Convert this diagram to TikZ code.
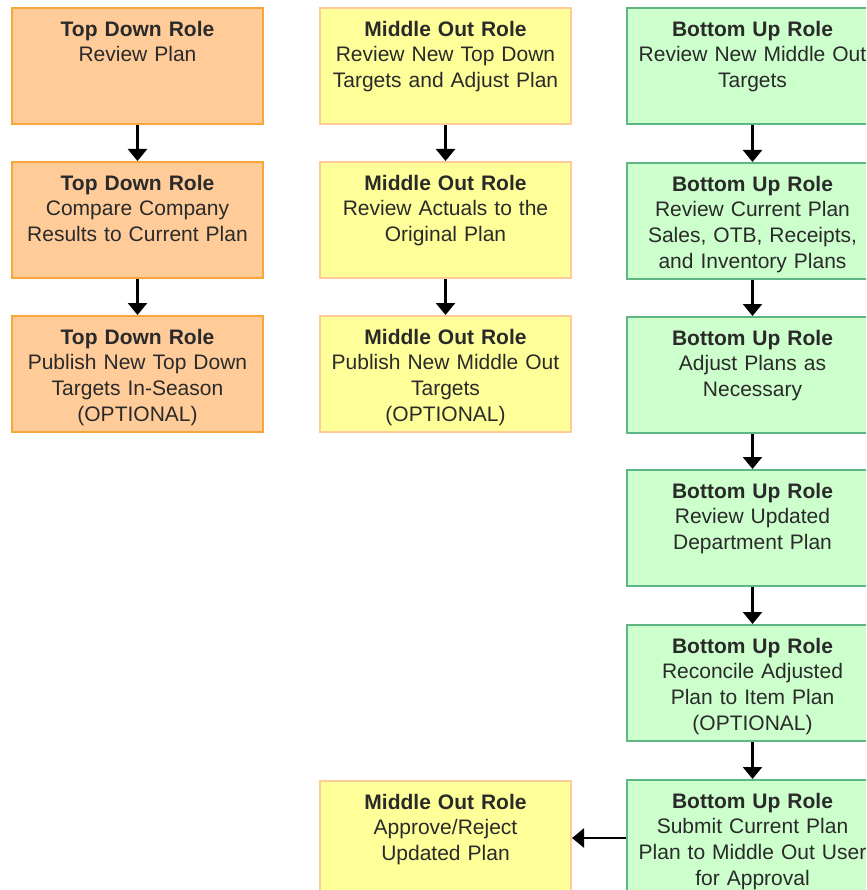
\documentclass[tikz,border=0pt]{standalone}
\usepackage{fontspec}
\setmainfont{Liberation Sans}
\usetikzlibrary{arrows.meta}
\definecolor{ofill}{HTML}{FFCC99}
\definecolor{oline}{HTML}{F7A637}
\definecolor{yfill}{HTML}{FFFF99}
\definecolor{yline}{HTML}{FFCC99}
\definecolor{gfill}{HTML}{CCFFCC}
\definecolor{gline}{HTML}{5DB683}
\definecolor{txtc}{HTML}{2A2A2A}
\tikzset{
  box/.style={line width=2pt, minimum width=251pt, minimum height=116pt, inner sep=0pt, anchor=north west},
  obox/.style={box, draw=oline, fill=ofill},
  ybox/.style={box, draw=yline, fill=yfill},
  gbox/.style={box, draw=gline, fill=gfill},
  txt/.style={anchor=north, inner sep=0pt, text width=250pt, align=center, text=txtc, font=\fontsize{21}{25.7}\selectfont},
  arr/.style={line width=2.5pt, -{Triangle[width=19pt,length=12pt]}}
}
\newcommand{\hd}[1]{\strut\textbf{#1}}
\begin{document}
\begin{tikzpicture}[x=1pt,y=-1pt]
\clip (0,0) rectangle (866,890);
\fill[white] (0,0) rectangle (866,890);
% left column
\node[obox] (a1) at (11,7) {};
\node[obox] (a2) at (11,161) {};
\node[obox] (a3) at (11,315) {};
% middle column
\node[ybox] (m1) at (319,7) {};
\node[ybox] (m2) at (319,161) {};
\node[ybox] (m3) at (319,315) {};
\node[ybox] (m4) at (319,780) {};
% right column
\node[gbox] (r1) at (626,7) {};
\node[gbox] (r2) at (626,162) {};
\node[gbox] (r3) at (626,316) {};
\node[gbox] (r4) at (626,469) {};
\node[gbox] (r5) at (626,624) {};
\node[gbox] (r6) at (626,779) {};
% texts
\node[txt] (a1t) at ([yshift=-11pt]a1.north) {\hd{Top Down Role}\\Review Plan};
\node[txt] (a2t) at ([yshift=-11pt]a2.north) {\hd{Top Down Role}\\Compare Company\\Results to Current Plan};
\node[txt] (a3t) at ([yshift=-11pt]a3.north) {\hd{Top Down Role}\\Publish New Top Down\\Targets In-Season\\(OPTIONAL)};
\node[txt] (m1t) at ([yshift=-11pt]m1.north) {\hd{Middle Out Role}\\Review New Top Down\\Targets and Adjust Plan};
\node[txt] (m2t) at ([yshift=-11pt]m2.north) {\hd{Middle Out Role}\\Review Actuals to the\\Original Plan};
\node[txt] (m3t) at ([yshift=-11pt]m3.north) {\hd{Middle Out Role}\\Publish New Middle Out\\Targets\\(OPTIONAL)};
\node[txt] (m4t) at ([yshift=-11pt]m4.north) {\hd{Middle Out Role}\\Approve/Reject\\Updated Plan};
\node[txt] (r1t) at ([yshift=-11pt]r1.north) {\hd{Bottom Up Role}\\Review New Middle Out\\Targets};
\node[txt] (r2t) at ([yshift=-11pt]r2.north) {\hd{Bottom Up Role}\\Review Current Plan\\Sales, OTB, Receipts,\\and Inventory Plans};
\node[txt] (r3t) at ([yshift=-11pt]r3.north) {\hd{Bottom Up Role}\\Adjust Plans as\\Necessary};
\node[txt] (r4t) at ([yshift=-11pt]r4.north) {\hd{Bottom Up Role}\\Review Updated\\Department Plan};
\node[txt] (r5t) at ([yshift=-11pt]r5.north) {\hd{Bottom Up Role}\\Reconcile Adjusted\\Plan to Item Plan\\(OPTIONAL)};
\node[txt] (r6t) at ([yshift=-11pt]r6.north) {\hd{Bottom Up Role}\\Submit Current Plan\\Plan to Middle Out User\\for Approval};
% arrows
\draw[arr] (a1.south) -- (a2.north);
\draw[arr] (a2.south) -- (a3.north);
\draw[arr] (m1.south) -- (m2.north);
\draw[arr] (m2.south) -- (m3.north);
\draw[arr] (r1.south) -- (r2.north);
\draw[arr] (r2.south) -- (r3.north);
\draw[arr] (r3.south) -- (r4.north);
\draw[arr] (r4.south) -- (r5.north);
\draw[arr] (r5.south) -- (r6.north);
\draw[arr] (r6.west) -- (r6.west -| m4.east);
\end{tikzpicture}
\end{document}
